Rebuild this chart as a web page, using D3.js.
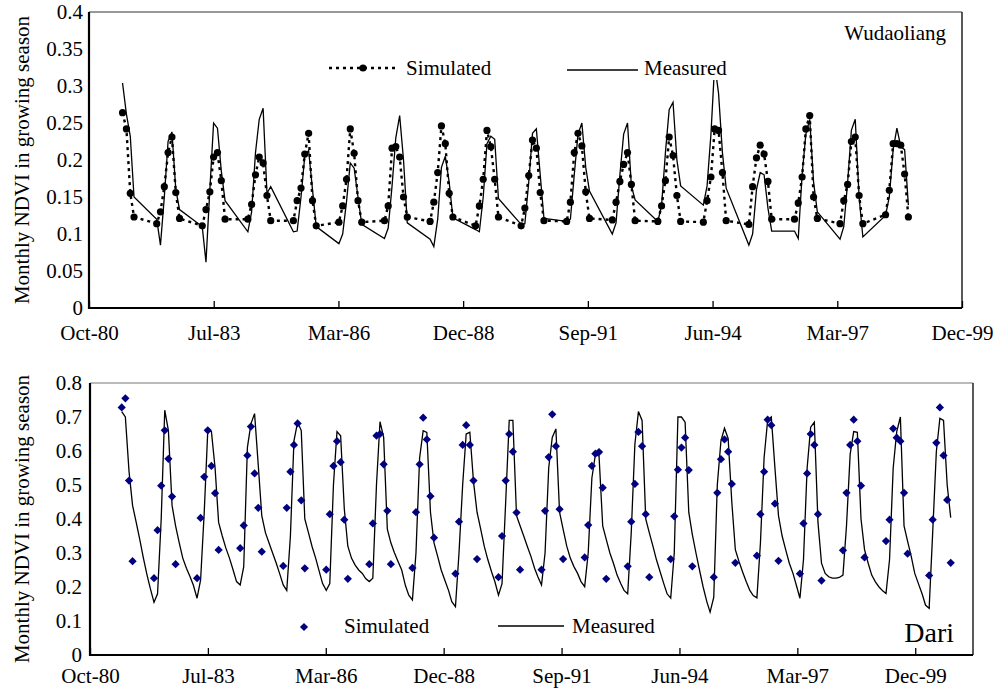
<!DOCTYPE html>
<html>
<head>
<meta charset="utf-8">
<script src="https://cdn.jsdelivr.net/npm/d3@7"></script>
<style>
  body { margin: 0; background: #fff; }
  svg text { font-family: "Liberation Serif", "Times New Roman", serif; fill: #000; }
</style>
</head>
<body>
<div id="chart"></div>
<script>
// growing season months used by the simulated series (and measured, top panel)
var seasonMonths = [3, 4, 5, 6, 7, 8, 9] // Apr..Oct (0-based)

// x axis: date axis, one major unit = 1000 days
var xTickLabels = ["Oct-80", "Jul-83", "Mar-86", "Dec-88", "Sep-91", "Jun-94", "Mar-97", "Dec-99"]

var serif = "'Liberation Serif', 'Times New Roman', serif"

// ---------- Wudaoliang (top) ----------
var wudaoYears = d3.range(1981, 1999)
var wudaoSimulated = [
  [null, null, null, 0.264, 0.242, 0.155, 0.123],
  [0.114, 0.130, 0.164, 0.210, 0.231, 0.156, 0.121],
  [0.111, 0.133, 0.157, 0.204, 0.210, 0.172, 0.120],
  [0.120, 0.140, 0.180, 0.204, 0.196, 0.152, 0.118],
  [0.118, 0.145, 0.162, 0.208, 0.236, 0.145, 0.111],
  [0.116, 0.138, 0.174, 0.242, 0.209, 0.145, 0.116],
  [0.118, 0.138, 0.216, 0.218, 0.204, 0.150, 0.123],
  [0.117, 0.143, 0.183, 0.246, 0.222, 0.155, 0.123],
  [0.111, 0.138, 0.174, 0.240, 0.218, 0.174, 0.123],
  [0.111, 0.135, 0.179, 0.227, 0.216, 0.156, 0.118],
  [0.117, 0.143, 0.210, 0.236, 0.219, 0.157, 0.121],
  [0.119, 0.143, 0.171, 0.194, 0.210, 0.167, 0.118],
  [0.117, 0.138, 0.172, 0.231, 0.206, 0.152, 0.117],
  [0.116, 0.145, 0.177, 0.242, 0.240, 0.183, 0.118],
  [0.113, 0.164, 0.203, 0.220, 0.208, 0.171, 0.120],
  [0.120, 0.142, 0.177, 0.242, 0.260, 0.150, 0.121],
  [0.114, 0.145, 0.167, 0.225, 0.231, 0.152, 0.114],
  [0.126, 0.159, 0.222, 0.222, 0.220, 0.181, 0.123]
]
var wudaoMeasured = [
  [null, null, null, 0.304, 0.262, 0.232, 0.150],
  [0.120, 0.085, 0.150, 0.225, 0.238, 0.160, 0.133],
  [0.110, 0.062, 0.160, 0.250, 0.243, 0.185, 0.145],
  [0.103, 0.130, 0.210, 0.255, 0.270, 0.155, 0.164],
  [0.103, 0.104, 0.150, 0.205, 0.213, 0.160, 0.110],
  [0.087, 0.100, 0.144, 0.196, 0.189, 0.150, 0.113],
  [0.094, 0.108, 0.165, 0.230, 0.260, 0.200, 0.115],
  [0.093, 0.083, 0.120, 0.190, 0.205, 0.170, 0.122],
  [0.106, 0.103, 0.150, 0.222, 0.232, 0.228, 0.148],
  [0.113, 0.114, 0.170, 0.236, 0.242, 0.180, 0.121],
  [0.117, 0.120, 0.180, 0.235, 0.250, 0.190, 0.158],
  [0.100, 0.115, 0.180, 0.235, 0.250, 0.165, 0.146],
  [0.117, 0.138, 0.210, 0.268, 0.278, 0.200, 0.165],
  [0.139, 0.165, 0.235, 0.330, 0.290, 0.210, 0.162],
  [0.085, 0.100, 0.160, 0.183, 0.180, 0.135, 0.104],
  [0.104, 0.094, 0.180, 0.235, 0.255, 0.170, 0.130],
  [0.093, 0.110, 0.170, 0.240, 0.255, 0.150, 0.096],
  [0.125, 0.150, 0.214, 0.243, 0.218, 0.214, 0.139]
]
var wudaoYTicks = [0, 0.05, 0.1, 0.15, 0.2, 0.25, 0.3, 0.35, 0.4]

// ---------- Dari (bottom) ----------
var dariYears = d3.range(1981, 2001)
var dariSimulated = [
  [null, null, null, 0.728, 0.755, 0.513, 0.276],
  [0.226, 0.367, 0.498, 0.661, 0.577, 0.466, 0.267],
  [0.226, 0.403, 0.524, 0.661, 0.556, 0.476, 0.309],
  [0.314, 0.381, 0.587, 0.672, 0.534, 0.433, 0.304],
  [0.262, 0.433, 0.539, 0.618, 0.681, 0.455, 0.255],
  [0.251, 0.414, 0.556, 0.629, 0.567, 0.398, 0.224],
  [0.267, 0.387, 0.645, 0.650, 0.561, 0.424, 0.267],
  [0.256, 0.420, 0.561, 0.698, 0.634, 0.467, 0.345],
  [0.239, 0.392, 0.618, 0.676, 0.618, 0.513, 0.282],
  [0.229, 0.350, 0.513, 0.650, 0.598, 0.419, 0.251],
  [0.251, 0.424, 0.582, 0.708, 0.614, 0.429, 0.282],
  [0.287, 0.382, 0.556, 0.592, 0.597, 0.492, 0.224],
  [0.261, 0.392, 0.503, 0.656, 0.614, 0.414, 0.229],
  [0.282, 0.408, 0.545, 0.610, 0.639, 0.544, 0.261],
  [0.229, 0.477, 0.576, 0.634, 0.598, 0.503, 0.271],
  [0.292, 0.414, 0.539, 0.692, 0.676, 0.445, 0.277],
  [0.239, 0.387, 0.534, 0.650, 0.618, 0.414, 0.219],
  [0.308, 0.477, 0.618, 0.692, 0.629, 0.498, 0.287],
  [0.335, 0.398, 0.666, 0.639, 0.629, 0.477, 0.298],
  [0.234, 0.398, 0.624, 0.728, 0.587, 0.456, 0.271]
]
// measured: every month Jan..Dec
var dariMeasured = [
  [null, null, null, null, null, null, 0.716, 0.700, 0.540, 0.440, 0.390, 0.340],
  [0.285, 0.235, 0.195, 0.155, 0.180, 0.400, 0.720, 0.660, 0.440, 0.380, 0.330, 0.285],
  [0.255, 0.230, 0.205, 0.167, 0.220, 0.420, 0.660, 0.657, 0.550, 0.390, 0.350, 0.315],
  [0.285, 0.250, 0.216, 0.206, 0.260, 0.610, 0.680, 0.710, 0.560, 0.410, 0.360, 0.330],
  [0.300, 0.270, 0.240, 0.206, 0.190, 0.350, 0.630, 0.685, 0.660, 0.400, 0.360, 0.320],
  [0.285, 0.245, 0.210, 0.190, 0.210, 0.500, 0.657, 0.645, 0.430, 0.320, 0.285, 0.265],
  [0.250, 0.240, 0.225, 0.216, 0.226, 0.500, 0.686, 0.640, 0.370, 0.330, 0.300, 0.275],
  [0.250, 0.205, 0.176, 0.162, 0.300, 0.580, 0.660, 0.655, 0.420, 0.330, 0.290, 0.250],
  [0.220, 0.190, 0.157, 0.142, 0.300, 0.500, 0.650, 0.655, 0.510, 0.420, 0.370, 0.320],
  [0.280, 0.245, 0.216, 0.176, 0.210, 0.450, 0.690, 0.690, 0.410, 0.380, 0.350, 0.320],
  [0.290, 0.255, 0.230, 0.206, 0.300, 0.550, 0.640, 0.665, 0.420, 0.370, 0.320, 0.285],
  [0.260, 0.240, 0.216, 0.201, 0.300, 0.520, 0.590, 0.585, 0.380, 0.340, 0.300, 0.270],
  [0.235, 0.210, 0.190, 0.180, 0.360, 0.620, 0.716, 0.690, 0.400, 0.360, 0.320, 0.280],
  [0.245, 0.210, 0.180, 0.167, 0.300, 0.700, 0.700, 0.685, 0.420, 0.355, 0.300, 0.250],
  [0.200, 0.157, 0.126, 0.170, 0.500, 0.630, 0.667, 0.637, 0.450, 0.310, 0.275, 0.245],
  [0.216, 0.190, 0.175, 0.168, 0.330, 0.580, 0.690, 0.700, 0.550, 0.410, 0.350, 0.310],
  [0.270, 0.240, 0.206, 0.167, 0.280, 0.550, 0.670, 0.685, 0.390, 0.270, 0.240, 0.230],
  [0.226, 0.226, 0.228, 0.235, 0.380, 0.590, 0.657, 0.655, 0.400, 0.310, 0.270, 0.235],
  [0.215, 0.200, 0.190, 0.181, 0.280, 0.550, 0.657, 0.700, 0.380, 0.335, 0.290, 0.240],
  [0.210, 0.180, 0.147, 0.137, 0.360, 0.598, 0.696, 0.690, 0.500, 0.404, null, null]
]
var dariYTicks = [0, 0.1, 0.2, 0.3, 0.4, 0.5, 0.6, 0.7, 0.8]

var yTitle = "Monthly NDVI in growing season"

// turn year x month tables into {date, value} points
function seasonPoints(years, table) {
  var out = []
  years.forEach(function(y, i) {
    table[i].forEach(function(v, j) {
      if (v != null) out.push({ date: new Date(Date.UTC(y, seasonMonths[j], 1)), value: v })
    })
  })
  return out
}
function monthlyPoints(years, table) {
  var out = []
  years.forEach(function(y, i) {
    table[i].forEach(function(v, m) {
      if (v != null) out.push({ date: new Date(Date.UTC(y, m, 1)), value: v })
    })
  })
  return out
}

var svgWidth = 1007
var svgHeight = 689
var axisStart = new Date(Date.UTC(1980, 9, 5))
var tickDates = xTickLabels.map(function(d, i) { return d3.utcDay.offset(axisStart, i * 1000) })

var svg = d3.select("#chart").append("svg")
  .attr("width", svgWidth)
  .attr("height", svgHeight)
  .attr("font-family", serif)

svg.append("rect").attr("width", svgWidth).attr("height", svgHeight).attr("fill", "#fff")

function drawFrame(g, x, y, yTicks, opts) {
  var x0 = x.range()[0], x1 = x.range()[1]
  var y0 = y.range()[0], y1 = y.range()[1]

  // top / right border
  g.append("line").attr("x1", x0).attr("x2", x1).attr("y1", y1).attr("y2", y1)
    .attr("stroke", opts.topColor).attr("stroke-width", 1.2)
  g.append("line").attr("x1", x1).attr("x2", x1).attr("y1", y1).attr("y2", y0)
    .attr("stroke", "#222").attr("stroke-width", 1.5)

  var xAxis = d3.axisBottom(x)
    .tickValues(tickDates)
    .tickFormat(function(d, i) { return xTickLabels[i] })
    .tickSizeInner(-7)
    .tickSizeOuter(0)
    .tickPadding(opts.xPad)
  var gx = g.append("g").attr("transform", "translate(0," + y0 + ")").call(xAxis)
    .attr("font-family", serif).attr("font-size", 21)
  gx.select(".domain").remove()
  gx.selectAll(".tick line").attr("stroke", "#000").attr("stroke-width", 1.3)
  gx.selectAll("text").style("font-family", serif).attr("font-size", 21)

  var yAxis = d3.axisLeft(y)
    .tickValues(yTicks)
    .tickFormat(d3.format("~g"))
    .tickSize(0)
    .tickPadding(opts.yPad)
  var gy = g.append("g").attr("transform", "translate(" + x0 + ",0)").call(yAxis)
    .attr("font-family", serif).attr("font-size", 21)
  gy.select(".domain").remove()
  gy.selectAll("text").style("font-family", serif).attr("font-size", 21)

  // heavy left and bottom axis lines
  g.append("line").attr("x1", x0).attr("x2", x1).attr("y1", y0).attr("y2", y0)
    .attr("stroke", "#000").attr("stroke-width", 2.2)
  g.append("line").attr("x1", x0).attr("x2", x0).attr("y1", y1).attr("y2", y0 + 1)
    .attr("stroke", "#000").attr("stroke-width", 2.2)

  g.append("text")
    .attr("transform", "translate(22," + (y0 + y1) / 2 + ") rotate(-90)")
    .attr("text-anchor", "middle")
    .attr("dy", "0.35em")
    .attr("font-size", 21)
    .text(yTitle)
}

// ---------- top panel ----------
var topG = svg.append("g")
var xTop = d3.scaleUtc()
  .domain([axisStart, d3.utcDay.offset(axisStart, 7000)])
  .range([89, 962])
var yTop = d3.scaleLinear().domain([0, 0.4]).range([308, 12])

var wudaoSim = seasonPoints(wudaoYears, wudaoSimulated)
var wudaoMeas = seasonPoints(wudaoYears, wudaoMeasured)

var line = function(x, y) {
  return d3.line().x(function(d) { return x(d.date) }).y(function(d) { return y(d.value) })
}

topG.append("path").datum(wudaoMeas)
  .attr("d", line(xTop, yTop))
  .attr("fill", "none").attr("stroke", "#000").attr("stroke-width", 1.3)

topG.append("path").datum(wudaoSim)
  .attr("d", line(xTop, yTop))
  .attr("fill", "none").attr("stroke", "#000").attr("stroke-width", 2.4)
  .attr("stroke-dasharray", "3,4")

topG.selectAll("circle.sim").data(wudaoSim).enter().append("circle")
  .attr("class", "sim")
  .attr("cx", function(d) { return xTop(d.date) })
  .attr("cy", function(d) { return yTop(d.value) })
  .attr("r", 3.6)
  .attr("fill", "#000")

// legend (white box hides the tallest peak, like the original)
var legTop = topG.append("g")
legTop.append("rect").attr("x", 322).attr("y", 52).attr("width", 412).attr("height", 28).attr("fill", "#fff")
legTop.append("line").attr("x1", 329).attr("x2", 397).attr("y1", 68).attr("y2", 68)
  .attr("stroke", "#000").attr("stroke-width", 2.4).attr("stroke-dasharray", "3,4")
legTop.append("circle").attr("cx", 363).attr("cy", 68).attr("r", 3.6).attr("fill", "#000")
legTop.append("text").attr("x", 406).attr("y", 75).attr("font-size", 21).text("Simulated")
legTop.append("line").attr("x1", 567).attr("x2", 638).attr("y1", 70).attr("y2", 70)
  .attr("stroke", "#000").attr("stroke-width", 1.3)
legTop.append("text").attr("x", 644).attr("y", 75).attr("font-size", 21).text("Measured")

topG.append("text").attr("x", 946).attr("y", 40).attr("text-anchor", "end")
  .attr("font-size", 21).text("Wudaoliang")

drawFrame(topG, xTop, yTop, wudaoYTicks, { topColor: "#333", xPad: 17, yPad: 6 })

// ---------- bottom panel ----------
var botG = svg.append("g")
var xBot = d3.scaleUtc()
  .domain([axisStart, d3.utcDay.offset(axisStart, 7490)])
  .range([90, 973])
var yBot = d3.scaleLinear().domain([0, 0.8]).range([655, 383])

var dariSim = seasonPoints(dariYears, dariSimulated)
var dariMeas = monthlyPoints(dariYears, dariMeasured)

botG.append("path").datum(dariMeas)
  .attr("d", line(xBot, yBot))
  .attr("fill", "none").attr("stroke", "#000").attr("stroke-width", 1.3)

var diamond = d3.symbol().type(d3.symbolSquare).size(34)
botG.selectAll("path.sim").data(dariSim).enter().append("path")
  .attr("class", "sim")
  .attr("d", diamond)
  .attr("transform", function(d) { return "translate(" + xBot(d.date) + "," + yBot(d.value) + ") rotate(45)" })
  .attr("fill", "#000080")

var legBot = botG.append("g")
legBot.append("path").attr("d", diamond).attr("transform", "translate(304,627) rotate(45)").attr("fill", "#000080")
legBot.append("text").attr("x", 344).attr("y", 633).attr("font-size", 21).text("Simulated")
legBot.append("line").attr("x1", 498).attr("x2", 564).attr("y1", 626).attr("y2", 626)
  .attr("stroke", "#000").attr("stroke-width", 1.3)
legBot.append("text").attr("x", 572).attr("y", 633).attr("font-size", 21).text("Measured")

botG.append("text").attr("x", 954).attr("y", 642).attr("text-anchor", "end")
  .attr("font-size", 28).text("Dari")

drawFrame(botG, xBot, yBot, dariYTicks, { topColor: "#777", xPad: 13, yPad: 8 })
</script>
</body>
</html>
